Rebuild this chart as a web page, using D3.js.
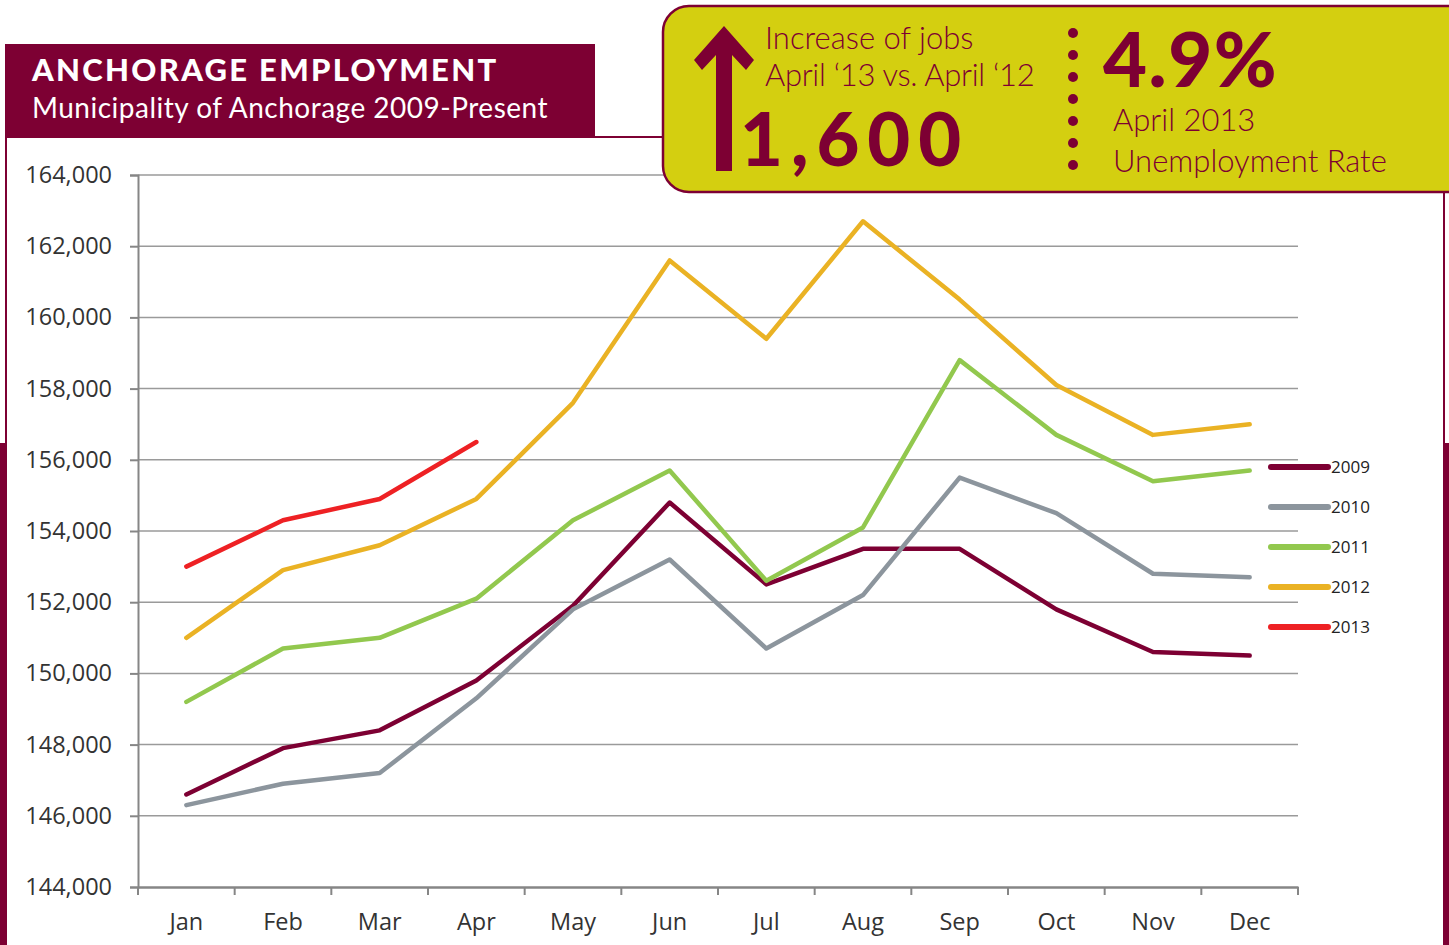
<!DOCTYPE html>
<html>
<head>
<meta charset="utf-8">
<script src="https://cdn.jsdelivr.net/npm/d3@7"></script>
<style>
  body { margin: 0; background: #fff; }
  svg { display: block; }
</style>
</head>
<body>
<svg width="1449" height="945"></svg>
<script>
// values
const months = ["Jan", "Feb", "Mar", "Apr", "May", "Jun", "Jul", "Aug", "Sep", "Oct", "Nov", "Dec"];
const years = ["2009", "2010", "2011", "2012", "2013"];
const colors = ["#7d0033", "#8c959d", "#92c84e", "#eab224", "#ee2124"];
const y2009 = [146600, 147900, 148400, 149800, 151900, 154800, 152500, 153500, 153500, 151800, 150600, 150500];
const y2010 = [146300, 146900, 147200, 149300, 151800, 153200, 150700, 152200, 155500, 154500, 152800, 152700];
const y2011 = [149200, 150700, 151000, 152100, 154300, 155700, 152600, 154100, 158800, 156700, 155400, 155700];
const y2012 = [151000, 152900, 153600, 154900, 157600, 161600, 159400, 162700, 160500, 158100, 156700, 157000];
const y2013 = [153000, 154300, 154900, 156500];
const yTicks = d3.range(144000, 164001, 2000);

const series = [y2009, y2010, y2011, y2012, y2013].map((v, i) => ({ year: years[i], color: colors[i], values: v }));

const maroon = "#7d0033";
const width = 1449, height = 945;
const margin = ({ top: 175, right: 151, bottom: 58, left: 138 });

const svg = d3.select("svg").attr("viewBox", [0, 0, width, height]);

// frame
svg.append("rect").attr("x", 0).attr("y", 443).attr("width", width).attr("height", height - 443).attr("fill", maroon);
svg.append("rect").attr("x", 6).attr("y", 137).attr("width", 1438).attr("height", 900)
    .attr("fill", "#fff").attr("stroke", maroon).attr("stroke-width", 2);

// title box
svg.append("rect").attr("x", 5).attr("y", 44).attr("width", 590).attr("height", 93).attr("fill", maroon);
svg.append("text").attr("x", 32).attr("y", 81)
    .attr("fill", "#fff").attr("font-family", "Lato, sans-serif").attr("font-weight", 900)
    .attr("font-size", 31).attr("letter-spacing", 2.3)
    .text("ANCHORAGE EMPLOYMENT");
svg.append("text").attr("x", 32).attr("y", 118)
    .attr("fill", "#fff").attr("font-family", "Lato, sans-serif")
    .attr("font-size", 28).attr("letter-spacing", 0.5)
    .text("Municipality of Anchorage 2009-Present");

const x = d3.scaleBand()
    .domain(months)
    .range([margin.left, width - margin.right]);

const y = d3.scaleLinear()
    .domain([144000, 164000])
    .range([height - margin.bottom, margin.top]);

// grid
svg.append("g")
    .selectAll("line")
    .data(yTicks.slice(1))
    .join("line")
    .attr("x1", margin.left).attr("x2", width - margin.right)
    .attr("y1", d => y(d)).attr("y2", d => y(d))
    .attr("stroke", "#9a9a9a").attr("stroke-width", 1.5);

const yAxis = g => g
    .attr("transform", `translate(${margin.left},0)`)
    .call(d3.axisLeft(y).tickValues(yTicks).tickFormat(d3.format(",")).tickSize(8).tickPadding(18))
    .call(g => g.selectAll("line, .domain").attr("stroke", "#868686").attr("stroke-width", 2))
    .call(g => g.selectAll("text").attr("fill", "#333").attr("font-size", 23.5)
        .attr("font-family", "'Open Sans', sans-serif"));

const xAxis = g => g
    .attr("transform", `translate(0,${height - margin.bottom})`)
    .call(d3.axisBottom(x).tickSize(0).tickPadding(26))
    .call(g => g.select(".domain").attr("stroke", "#868686").attr("stroke-width", 2.5))
    .call(g => g.selectAll("text").attr("fill", "#333").attr("font-size", 23.5)
        .attr("font-family", "'Open Sans', sans-serif"));

svg.append("g").call(yAxis);
const gx = svg.append("g").call(xAxis);

// band boundary ticks
gx.append("g")
    .selectAll("line")
    .data(months.concat(["end"]))
    .join("line")
    .attr("x1", (d, i) => margin.left + i * x.bandwidth())
    .attr("x2", (d, i) => margin.left + i * x.bandwidth())
    .attr("y1", 0).attr("y2", 8)
    .attr("stroke", "#868686").attr("stroke-width", 2);

// lines
const line = d3.line()
    .x((d, i) => x(months[i]) + x.bandwidth() / 2)
    .y(d => y(d));

svg.append("g")
    .selectAll("path")
    .data(series)
    .join("path")
    .attr("fill", "none")
    .attr("stroke", d => d.color)
    .attr("stroke-width", 4.5)
    .attr("stroke-linejoin", "round")
    .attr("stroke-linecap", "round")
    .attr("d", d => line(d.values));

// legend
const legend = svg.append("g")
    .selectAll("g")
    .data(series)
    .join("g")
    .attr("transform", (d, i) => `translate(1271,${467 + i * 40})`);
legend.append("line")
    .attr("x1", 0).attr("x2", 57)
    .attr("stroke", d => d.color).attr("stroke-width", 6).attr("stroke-linecap", "round");
legend.append("text")
    .attr("x", 60).attr("dy", "0.35em")
    .attr("fill", "#222").attr("font-size", 17).attr("font-family", "'Open Sans', sans-serif")
    .text(d => d.year);

// callout
const callout = svg.append("g");
callout.append("rect")
    .attr("x", 663).attr("y", 6).attr("width", 820).attr("height", 186).attr("rx", 26)
    .attr("fill", "#d4cf10").attr("stroke", maroon).attr("stroke-width", 2.5);
callout.append("path")
    .attr("d", "M724,26 L754,60 L746,70 L732,55 L732,171 L716,171 L716,55 L702,70 L694,60 Z")
    .attr("fill", maroon);
const light = "Lato, sans-serif";
callout.append("text").attr("x", 765).attr("y", 49)
    .attr("fill", maroon).attr("font-family", light).attr("font-weight", 300).attr("font-size", 31)
    .text("Increase of jobs");
callout.append("text").attr("x", 765).attr("y", 86)
    .attr("fill", maroon).attr("font-family", light).attr("font-weight", 300).attr("font-size", 31)
    .attr("letter-spacing", -0.3)
    .text("April \u201813 vs. April \u201812");
callout.append("text").attr("x", 740).attr("y", 166)
    .attr("fill", maroon).attr("font-family", light).attr("font-weight", 900).attr("font-size", 74)
    .attr("letter-spacing", 8)
    .text("1,600");
callout.append("g")
    .selectAll("circle")
    .data(d3.range(7))
    .join("circle")
    .attr("cx", 1073).attr("cy", d => 33 + d * 22).attr("r", 5)
    .attr("fill", maroon);
callout.append("text").attr("x", 1103).attr("y", 87)
    .attr("fill", maroon).attr("font-family", light).attr("font-weight", 900).attr("font-size", 76)
    .attr("letter-spacing", 1.5)
    .text("4.9%");
callout.append("text").attr("x", 1113).attr("y", 131)
    .attr("fill", maroon).attr("font-family", light).attr("font-weight", 300).attr("font-size", 31)
    .text("April 2013");
callout.append("text").attr("x", 1113).attr("y", 172)
    .attr("fill", maroon).attr("font-family", light).attr("font-weight", 300).attr("font-size", 31)
    .text("Unemployment Rate");
</script>
</body>
</html>
